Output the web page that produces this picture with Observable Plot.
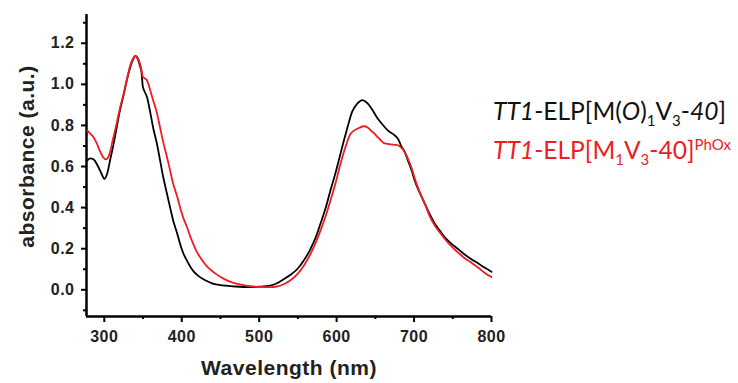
<!DOCTYPE html>
<html>
<head>
<meta charset="utf-8">
<script src="https://cdn.jsdelivr.net/npm/d3@7"></script>
<script src="https://cdn.jsdelivr.net/npm/@observablehq/plot@0.6"></script>
<style>
  html, body { margin: 0; padding: 0; background: #fff; }
  #wrap { position: relative; width: 738px; height: 383px; }
  .leg { position: absolute; font-family: Lato, "Open Sans", sans-serif; font-size: 24.6px; white-space: nowrap; line-height: 1; }
  .leg sub, .leg sup { font-size: 15px; line-height: 0; }
</style>
</head>
<body>
<div id="wrap"></div>
<script>
// Series 1: TT1-ELP[M(O)1V3-40] (black)
const blackWavelength = [278,282,286,292,297,300,304,308,312,316,320,325,329,334,338,340,343,346,348,349.7,352,355,359,363,368,372,376,381,385,389,394,398,402,407,411,415,421,428,435,441,450,458,470,488,500,514,523,531,540,549,558,566,573,579,586,592,599,605,610,614,620,627,633,640,645,649,653,658,666,675,680,683,688,692,697,701,707,714,720,727,734,740,748,757,765,774,783,791,800];
const blackAbs = [0.63,0.64,0.635,0.6,0.56,0.54,0.57,0.64,0.71,0.79,0.87,0.95,1.02,1.09,1.128,1.138,1.125,1.09,1.06,0.99,0.965,0.94,0.87,0.79,0.71,0.63,0.55,0.466,0.40,0.336,0.275,0.222,0.178,0.14,0.112,0.091,0.069,0.051,0.038,0.029,0.023,0.02,0.016,0.013,0.015,0.02,0.032,0.05,0.072,0.10,0.145,0.197,0.255,0.32,0.40,0.483,0.575,0.662,0.735,0.79,0.866,0.907,0.923,0.907,0.882,0.858,0.834,0.81,0.776,0.752,0.73,0.703,0.67,0.63,0.58,0.53,0.475,0.418,0.37,0.32,0.285,0.254,0.225,0.198,0.173,0.149,0.128,0.108,0.088];

// Series 2: TT1-ELP[M1V3-40]PhOx (red)
const redWavelength = [278,282,286,290,294,298,302,305,307.4,311,316,320,325,329,333,337,340,343,346,348,349.7,352,355,359,363,368,372,376,381,385,389,394,398,402,407,411,415,419,424,428,432,438,445,455,467,478,488,500,514,523,531,540,549,558,566,573,579,586,592,599,605,611,618,627,635,640,644,649,653,657,661,670,677,683,688,692,697,701,707,714,720,727,734,740,748,757,765,774,783,791,800];
const redAbs = [0.776,0.76,0.743,0.715,0.678,0.648,0.635,0.645,0.67,0.73,0.81,0.88,0.955,1.02,1.086,1.125,1.138,1.13,1.10,1.07,1.037,1.03,1.02,0.975,0.923,0.86,0.79,0.72,0.645,0.58,0.515,0.455,0.40,0.35,0.303,0.26,0.222,0.188,0.157,0.135,0.116,0.095,0.075,0.052,0.034,0.024,0.018,0.014,0.013,0.016,0.026,0.045,0.075,0.12,0.173,0.23,0.287,0.36,0.434,0.525,0.613,0.69,0.76,0.784,0.796,0.79,0.776,0.76,0.743,0.728,0.714,0.708,0.705,0.694,0.67,0.638,0.59,0.54,0.478,0.418,0.36,0.311,0.275,0.246,0.212,0.181,0.155,0.132,0.107,0.083,0.062];

const xDomain = [277, 800];
const yDomain = [-0.13, 1.34];
const xTicks = [300, 400, 500, 600, 700, 800];
const xMinorTicks = [350, 450, 550, 650, 750];
const yTicks = [0.0, 0.2, 0.4, 0.6, 0.8, 1.0, 1.2];
const yMinorTicks = [-0.1, 0.1, 0.3, 0.5, 0.7, 0.9, 1.1, 1.3];
const xTitle = "Wavelength (nm)";
const yTitle = "absorbance (a.u.)";

const black = blackWavelength.map((w, i) => ({w, a: blackAbs[i]}));
const red = redWavelength.map((w, i) => ({w, a: redAbs[i]}));

const font = "'Liberation Sans', Arial, sans-serif";

const chart = Plot.plot({
  width: 738,
  height: 383,
  marginLeft: 86,
  marginRight: 247,
  marginTop: 14,
  marginBottom: 67,
  style: {fontFamily: font, fontWeight: "bold", fontSize: "16px", color: "#222", background: "#fff", letterSpacing: "0.5px"},
  x: {domain: xDomain},
  y: {domain: yDomain},
  marks: [
    Plot.axisX({ticks: xTicks, tickSize: 6, tickPadding: 8, tickFormat: d => String(d), label: null, strokeWidth: 2, stroke: "#000", fill: "#222"}),
    Plot.axisX({ticks: xMinorTicks, tickSize: 3, text: null, label: null, strokeWidth: 2, stroke: "#000"}),
    Plot.axisY({ticks: yTicks, tickSize: 5, tickPadding: 7, tickFormat: d => d.toFixed(1), label: null, strokeWidth: 2, stroke: "#000", fill: "#222"}),
    Plot.axisY({ticks: yMinorTicks, tickSize: 3, text: null, label: null, strokeWidth: 2, stroke: "#000"}),
    Plot.ruleX([xDomain[0]], {stroke: "#000", strokeWidth: 2.5}),
    Plot.ruleY([yDomain[0]], {stroke: "#000", strokeWidth: 2.5}),
    Plot.line(black, {x: "w", y: "a", stroke: "#000", strokeWidth: 1.8, curve: "monotone-x"}),
    Plot.line(red, {x: "w", y: "a", stroke: "#ee1c24", strokeWidth: 1.8, curve: "monotone-x"}),
    Plot.text([xTitle], {frameAnchor: "bottom", lineAnchor: "middle", textAnchor: "middle", dy: 52, fontSize: 21, fontWeight: "bold", fill: "#222", letterSpacing: "1.5px"}),
    Plot.text([yTitle], {frameAnchor: "left", lineAnchor: "middle", textAnchor: "middle", rotate: -90, dx: -59, dy: -9, fontSize: 21, fontWeight: "bold", fill: "#222", letterSpacing: "1.5px"})
  ]
});

const wrap = document.getElementById("wrap");
wrap.appendChild(chart);

const leg1 = document.createElement("div");
leg1.className = "leg";
leg1.style.left = "493px";
leg1.style.top = "99px";
leg1.style.color = "#111";
leg1.innerHTML = "<i>TT1</i>-ELP[M(<i>O</i>)<sub>1</sub>V<sub>3</sub>-<i>40</i>]";
wrap.appendChild(leg1);

const leg2 = document.createElement("div");
leg2.className = "leg";
leg2.style.left = "493px";
leg2.style.top = "138px";
leg2.style.color = "#ee1c24";
leg2.innerHTML = "<i>TT1</i>-ELP[M<sub>1</sub>V<sub>3</sub>-40]<sup>PhOx</sup>";
wrap.appendChild(leg2);
</script>
</body>
</html>
